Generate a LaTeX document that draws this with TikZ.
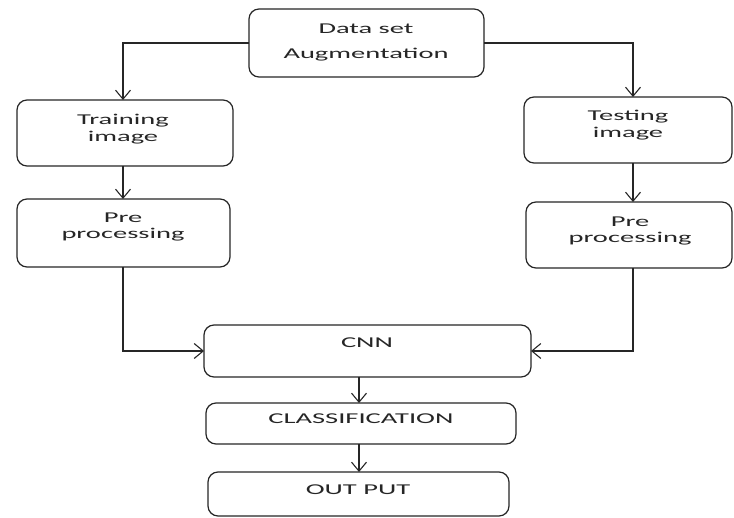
\documentclass[tikz,border=0pt]{standalone}
\usepackage{fontspec}
\setmainfont{Carlito}[FakeStretch=1.9]
\usetikzlibrary{arrows.meta}
\begin{document}
\begin{tikzpicture}[x=1pt,y=-1pt,
  box/.style={draw=black!85,line width=1.2pt,rounded corners=10pt,fill=white},
  lbl/.style={inner sep=0pt,font=\fontsize{15}{16.5}\selectfont,align=center,text=black!85},
  conn/.style={draw=black!85,line width=1.2pt,-{Straight Barb[length=9pt,width=15pt,line width=1.1pt]}},
  plain/.style={draw=black!85,line width=1.2pt}]
\useasboundingbox (0,0) rectangle (734,518);
% boxes
\draw[box] (249,9) rectangle (484,77);
\coordinate (dsL) at (249,43); \coordinate (dsR) at (484,43);
\node[lbl] (ds1) at (366,29) {Data set};
\node[lbl] (ds2) at (366,55) {Augmentation};

\draw[box] (17,100) rectangle (233,166);
\coordinate (trT) at (123,100); \coordinate (trB) at (123,166);
\node[lbl] (tr) at (123,129) {Training\\image};

\draw[box] (17,199) rectangle (230,267);
\coordinate (plT) at (123,199); \coordinate (plB) at (123,267);
\node[lbl] (pl) at (123,227) {Pre\\processing};

\draw[box] (524,97) rectangle (732,163);
\coordinate (teT) at (633,97); \coordinate (teB) at (633,163);
\node[lbl] (te) at (628,125) {Testing\\image};

\draw[box] (526,202) rectangle (732,268);
\coordinate (prT) at (633,202); \coordinate (prB) at (633,268);
\node[lbl] (pr) at (630,231) {Pre\\processing};

\draw[box] (204,325) rectangle (531,377);
\coordinate (cnL) at (204,351); \coordinate (cnR) at (531,351);
\coordinate (cnB) at (359,377);
\node[lbl] (cnn) at (367,343) {CNN};

\draw[box] (206,403) rectangle (516,444);
\coordinate (clT) at (359,403); \coordinate (clB) at (359,444);
\node[lbl] (cl) at (361,419) {CLASSIFICATION};

\draw[box] (208,472) rectangle (509,516);
\coordinate (ouT) at (359,472);
\node[lbl] (ou) at (358,490) {OUT PUT};

% connectors
\draw[conn] (dsL) -| (trT);
\draw[conn] (dsR) -| (teT);
\draw[conn] (trB) -- (plT);
\draw[conn] (teB) -- (prT);
\draw[conn] (plB) |- (cnL);
\draw[conn] (prB) |- (cnR);
\draw[conn] (cnB) -- (clT);
\draw[conn] (clB) -- (ouT);
\end{tikzpicture}
\end{document}
